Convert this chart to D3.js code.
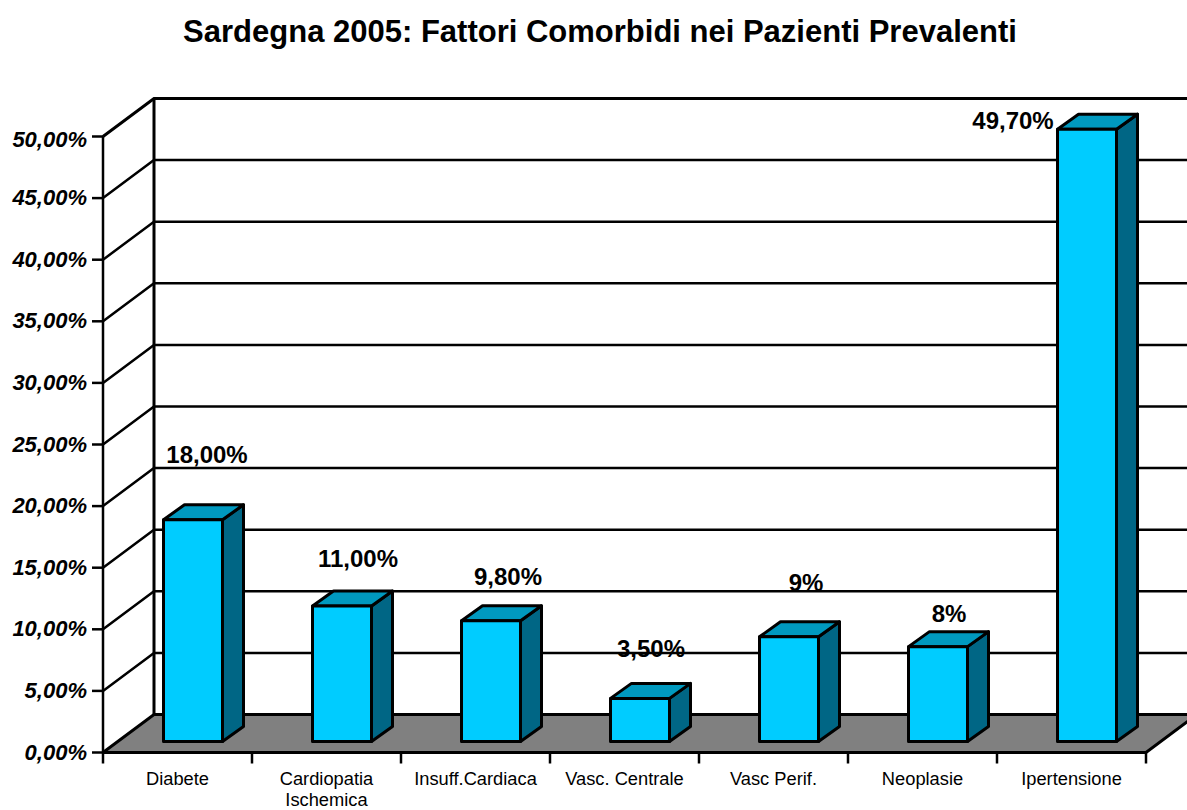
<!DOCTYPE html>
<html>
<head>
<meta charset="utf-8">
<script src="https://cdn.jsdelivr.net/npm/d3@7"></script>
<style>
  html, body { margin: 0; padding: 0; background: #fff; overflow: hidden; }
  text { font-family: "Liberation Sans", Arial, sans-serif; fill: #000; }
</style>
</head>
<body>
<svg id="chart" width="1187" height="810"></svg>
<script>
const categories = ["Diabete", "Cardiopatia|Ischemica", "Insuff.Cardiaca", "Vasc. Centrale", "Vasc Perif.", "Neoplasie", "Ipertensione"];
const values = [18, 11, 9.8, 3.5, 8.5, 7.7, 49.7];
const valueLabels = ["18,00%", "11,00%", "9,80%", "3,50%", "9%", "8%", "49,70%"];
const yTicks = [0, 5, 10, 15, 20, 25, 30, 35, 40, 45, 50];

// label nudges from the top of each bar, the original has them hand placed
const labelNudge = [[14, -57], [16, -39], [17, -36], [11, -41], [17, -46], [11, -25], [-74, 0]];

const WIDTH = 1187, HEIGHT = 810;
const svg = d3.select("#chart");

svg.append("text")
  .attr("x", 600).attr("y", 42)
  .attr("text-anchor", "middle")
  .style("font-size", "31px").style("font-weight", "700")
  .text("Sardegna 2005: Fattori Comorbidi nei Pazienti Prevalenti");

const x = d3.scaleBand().domain(d3.range(categories.length)).range([103, 1146]);
const y = d3.scaleLinear().domain([0, 50]).range([752.5, 136.5]);

// depth of the walls and of the bars
const wallDx = 51, wallDy = -38;
const barDx = 21, barDy = -15;
const barLift = 11, barInset = 60.5, barW = 59;

const floorColor = "#808080", frontColor = "#00ccff", topColor = "#0099bf", sideColor = "#006685";

// floor
svg.append("polygon")
  .attr("points", [
    [x.range()[0], y(0)],
    [x.range()[0] + wallDx, y(0) + wallDy],
    [x.range()[1] + wallDx, y(0) + wallDy],
    [x.range()[1], y(0)]
  ].join(" "))
  .attr("fill", floorColor);

// gridlines across back wall + side wall
const grid = svg.append("g").attr("fill", "none").attr("stroke", "#000");
grid.selectAll("polyline")
  .data(yTicks)
  .enter().append("polyline")
  .attr("points", d => [
    [x.range()[0], y(d)],
    [x.range()[0] + wallDx, y(d) + wallDy],
    [WIDTH + 5, y(d) + wallDy]
  ].join(" "))
  .attr("stroke-width", d => d === 50 || d === 0 ? 3 : 2.5);

// wall verticals
grid.append("line")
  .attr("x1", x.range()[0] + wallDx).attr("x2", x.range()[0] + wallDx)
  .attr("y1", y(50) + wallDy).attr("y2", y(0) + wallDy)
  .attr("stroke-width", 3);

// floor front + right edge
grid.append("polyline")
  .attr("points", [
    [x.range()[0], y(0)],
    [x.range()[1], y(0)],
    [x.range()[1] + wallDx, y(0) + wallDy]
  ].join(" "))
  .attr("stroke-width", 3);

// front axis
grid.append("line")
  .attr("x1", 103).attr("x2", 103)
  .attr("y1", y(50)).attr("y2", y(0))
  .attr("stroke-width", 2.5);

// y ticks and labels
const yAxis = svg.append("g");
yAxis.selectAll("line")
  .data(yTicks)
  .enter().append("line")
  .attr("x1", 92).attr("x2", 103)
  .attr("y1", d => y(d)).attr("y2", d => y(d))
  .attr("stroke", "#000").attr("stroke-width", 2.5);
yAxis.selectAll("text")
  .data(yTicks)
  .enter().append("text")
  .attr("x", 87)
  .attr("y", d => y(d) + (d === 50 ? 10 : 7))
  .attr("text-anchor", "end")
  .style("font-size", "22px").style("font-weight", "700").style("font-style", "italic")
  .text(d => d3.format(".2f")(d).replace(".", ",") + "%");

// x ticks
svg.append("g").selectAll("line")
  .data(d3.range(categories.length + 1))
  .enter().append("line")
  .attr("x1", i => 103 + i * x.bandwidth()).attr("x2", i => 103 + i * x.bandwidth())
  .attr("y1", y(0)).attr("y2", y(0) + 11)
  .attr("stroke", "#000").attr("stroke-width", 2.5);

// category labels
const cat = svg.append("g").selectAll("text")
  .data(categories)
  .enter().append("text")
  .attr("text-anchor", "middle")
  .style("font-size", "18.3px");
cat.each(function(d, i) {
  d.split("|").forEach((line, k) => {
    d3.select(this).append("tspan")
      .attr("x", x(i) + x.bandwidth() / 2)
      .attr("y", 785 + k * 21)
      .text(line);
  });
});

// bars
const bars = svg.append("g").selectAll("g")
  .data(values)
  .enter().append("g")
  .attr("stroke", "#000").attr("stroke-width", 3).attr("stroke-linejoin", "round");

const bx = i => x(i) + barInset;
const by = d => y(d) - barLift;
const base = y(0) - barLift;

bars.append("polygon")
  .attr("fill", sideColor)
  .attr("points", (d, i) => [
    [bx(i) + barW, by(d)],
    [bx(i) + barW + barDx, by(d) + barDy],
    [bx(i) + barW + barDx, base + barDy],
    [bx(i) + barW, base]
  ].join(" "));
bars.append("polygon")
  .attr("fill", topColor)
  .attr("points", (d, i) => [
    [bx(i), by(d)],
    [bx(i) + barDx, by(d) + barDy],
    [bx(i) + barW + barDx, by(d) + barDy],
    [bx(i) + barW, by(d)]
  ].join(" "));
bars.append("rect")
  .attr("fill", frontColor)
  .attr("x", (d, i) => bx(i))
  .attr("y", d => by(d))
  .attr("width", barW)
  .attr("height", d => base - by(d));

// value labels
svg.append("g").selectAll("text")
  .data(values)
  .enter().append("text")
  .attr("x", (d, i) => bx(i) + barW / 2 + labelNudge[i][0])
  .attr("y", (d, i) => by(d) + labelNudge[i][1])
  .attr("text-anchor", "middle")
  .style("font-size", "24px").style("font-weight", "700")
  .text((d, i) => valueLabels[i]);
</script>
</body>
</html>
